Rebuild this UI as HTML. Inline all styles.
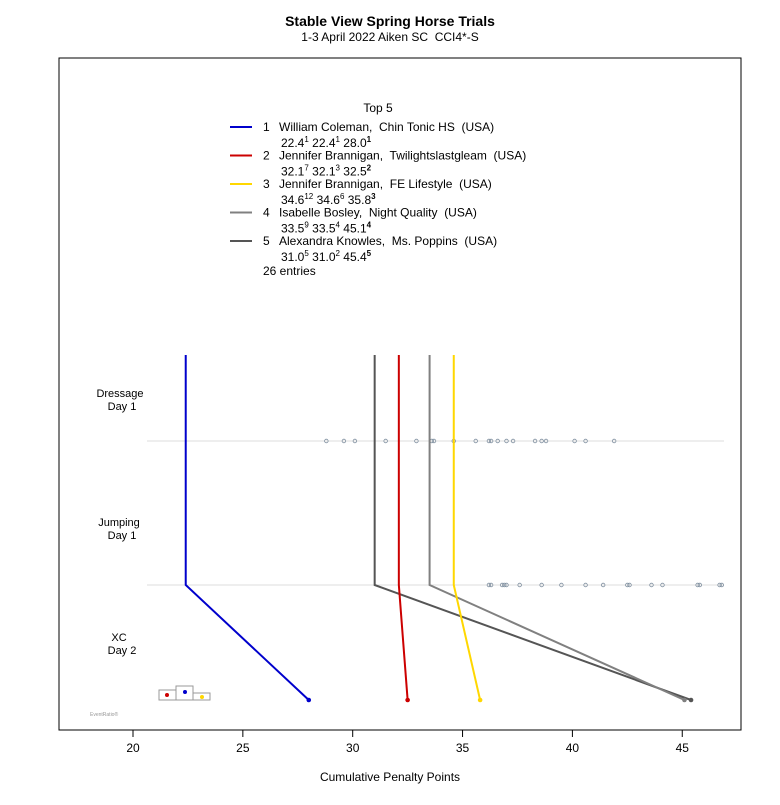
<!DOCTYPE html>
<html><head><meta charset="utf-8"><style>
body{margin:0;background:#fff}
svg{font-family:"Liberation Sans",sans-serif}
svg text{white-space:pre}
</style></head><body>
<svg id="c" width="780" height="800" viewBox="0 0 780 800">
<text x="390" y="26" text-anchor="middle" font-size="14" font-weight="bold">Stable View Spring Horse Trials</text>
<text x="390" y="41" text-anchor="middle" font-size="12">1-3 April 2022 Aiken SC  CCI4*-S</text>
<rect x="59" y="58" width="682" height="672" fill="none" stroke="#000"/>
<g id="grid"></g><g id="dots"></g><g id="lines"></g><g id="axis"></g><g id="legend"></g>
<text x="390" y="781" text-anchor="middle" font-size="12">Cumulative Penalty Points</text>
<g font-size="11" text-anchor="middle">
<text x="120" y="397">Dressage</text><text x="122" y="410">Day 1</text>
<text x="119" y="526">Jumping</text><text x="122" y="539">Day 1</text>
<text x="119" y="641">XC</text><text x="122" y="654">Day 2</text>
</g>
<g>
<rect x="159" y="690" width="17" height="10" fill="none" stroke="#999"/>
<rect x="176" y="686" width="17" height="14" fill="none" stroke="#999"/>
<rect x="193" y="693" width="17" height="7" fill="none" stroke="#999"/>
<circle cx="167" cy="695" r="2" fill="#cc0000"/><circle cx="185" cy="692" r="2" fill="#0000cc"/><circle cx="202" cy="697" r="2" fill="#ffd700"/>
</g>
<text x="90" y="716" font-size="5" fill="#999">EventRatio®</text>
</svg>
<script>
const ticks=[20,25,30,35,40,45];
const names=["William Coleman,  Chin Tonic HS  (USA)","Jennifer Brannigan,  Twilightslastgleam  (USA)","Jennifer Brannigan,  FE Lifestyle  (USA)","Isabelle Bosley,  Night Quality  (USA)","Alexandra Knowles,  Ms. Poppins  (USA)"];
const dressage=[22.4,32.1,34.6,33.5,31.0];
const jumping=[22.4,32.1,34.6,33.5,31.0];
const xc=[28.0,32.5,35.8,45.1,45.4];
const rankD=[1,7,12,9,5];
const rankJ=[1,3,6,4,2];
const rankX=[1,2,3,4,5];
const colors=["#0000cc","#cc0000","#ffd700","#808080","#555555"];
const otherDressage=[28.8,29.6,30.1,31.5,32.9,33.6,33.7,34.6,35.6,36.2,36.3,36.6,37.0,37.3,38.3,38.6,38.8,40.1,40.6,41.9];
const otherJumping=[36.2,36.3,36.8,36.9,37.0,37.6,38.6,39.5,40.6,41.4,42.5,42.6,43.6,44.1,45.7,45.8,46.7,46.8];
const NS="http://www.w3.org/2000/svg";
const X=v=>133+(v-20)*21.97;
const yTop=355,yD=441,yJ=585,yX=700;
function mk(t,a,p){const e=document.createElementNS(NS,t);for(const k in a)e.setAttribute(k,a[k]);p.appendChild(e);return e;}
const grid=document.getElementById('grid');
[yD,yJ].forEach(y=>{const l=mk('line',{x1:147,x2:724,y1:y,y2:y,stroke:'#ddd'},grid);

});
const dots=document.getElementById('dots');
otherDressage.forEach(v=>{const c=mk('circle',{cx:X(v),cy:yD,r:1.8,fill:'none',stroke:'#8090a0','stroke-width':0.8},dots);

});
otherJumping.forEach(v=>{const c=mk('circle',{cx:X(v),cy:yJ,r:1.8,fill:'none',stroke:'#8090a0','stroke-width':0.8},dots);

});
const lines=document.getElementById('lines');
for(let i=4;i>=0;i--){
const p=mk('polyline',{points:`${X(dressage[i])},${yTop} ${X(dressage[i])},${yD} ${X(jumping[i])},${yJ} ${X(xc[i])},${yX}`,fill:'none',stroke:colors[i],'stroke-width':2},lines);


const c=mk('circle',{cx:X(xc[i]),cy:yX,r:2.3,fill:colors[i]},lines);

}
const ax=document.getElementById('axis');
const al=mk('line',{x1:X(ticks[0]),x2:X(ticks[ticks.length-1]),y1:730,y2:730,stroke:'#000'},ax);


ticks.forEach(t=>{mk('line',{x1:X(t),x2:X(t),y1:730,y2:737,stroke:'#000'},ax);
const tx=mk('text',{x:X(t),y:752,'text-anchor':'middle','font-size':12},ax);tx.textContent=t;

});
const lg=document.getElementById('legend');


const tt=mk('text',{x:378,y:112,'text-anchor':'middle','font-size':12},lg);tt.textContent='Top 5';
for(let i=0;i<5;i++){const y=127+i*28.5;
mk('line',{x1:230,x2:252,y1:y,y2:y,stroke:colors[i],'stroke-width':2},lg);
const t=mk('text',{x:263,y:y+4,'font-size':12},lg);t.textContent=(i+1);
const n=mk('text',{x:279,y:y+4,'font-size':12},lg);n.textContent=names[i];


const s=mk('text',{x:281,y:y+20,'font-size':12},lg);
s.innerHTML=`${dressage[i].toFixed(1)}<tspan font-size="8" dy="-5">${rankD[i]}</tspan><tspan dy="5"> ${jumping[i].toFixed(1)}</tspan><tspan font-size="8" dy="-5">${rankJ[i]}</tspan><tspan dy="5"> ${xc[i].toFixed(1)}</tspan><tspan font-size="8" font-weight="bold" dy="-5">${rankX[i]}</tspan>`;}
const en=mk('text',{x:263,y:275,'font-size':12},lg);en.textContent='26 entries';
</script>
</body></html>
